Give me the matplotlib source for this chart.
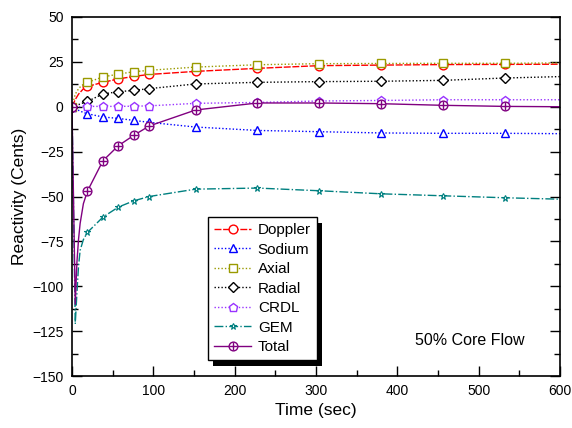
import numpy as np
import matplotlib.pyplot as plt
from matplotlib.patches import Rectangle
from matplotlib.legend_handler import HandlerTuple
from matplotlib.ticker import MultipleLocator

plt.rcParams['font.family'] = ['Liberation Sans', 'DejaVu Sans']

# time points (sec); markers sit on index 0 and 6..16
t = [0, 4, 6, 8, 10, 14, 19, 38, 57, 76, 95, 152, 228, 304, 380, 456, 532, 600]
doppler = [0, 4, 5.5, 7, 8, 10, 11.3, 13.6, 15.5, 16.9, 18.0, 19.7, 21.4, 22.9, 23.2, 23.5, 23.6, 23.7]
sodium = [0, -1.2, -1.6, -2, -2.4, -3.2, -3.9, -5.7, -6.5, -7.6, -8.7, -11.3, -13.2, -13.9, -14.6, -14.8, -14.8, -15.0]
axial = [0, 7, 8.5, 10, 11, 12.5, 13.6, 16.6, 18.2, 19.5, 20.3, 22.1, 23.4, 24.0, 24.1, 24.2, 24.2, 24.4]
radial = [0, 0.6, 0.9, 1.2, 1.5, 2.2, 3.0, 7.1, 8.4, 9.1, 10.1, 12.7, 13.6, 14.0, 14.2, 14.7, 16.0, 16.8]
crdl = [0, 0.1, 0.1, 0.1, 0.1, 0.2, 0.2, 0.2, 0.2, 0.3, 0.5, 1.9, 2.4, 3.2, 3.5, 3.9, 3.9, 3.9]
gem = [0, -121, -104, -89, -80, -74, -70.0, -61.5, -55.9, -52.4, -50.0, -45.9, -45.3, -46.8, -48.5, -49.6, -50.7, -51.5]
total = [0, -110, -87, -74, -65, -54, -47, -30.1, -21.7, -15.9, -10.7, -1.8, 2.1, 2.1, 1.7, 0.8, 0.2, 0.0]

mk = [0] + list(range(6, 17))

fig = plt.figure(figsize=(5.72, 4.28), dpi=100)
ax = fig.add_axes([72 / 572, 1 - 376 / 428, 488 / 572, 359 / 428])

ms = 6.3
common = dict(lw=1.0, markevery=mk, ms=ms, mfc='white', mew=1.0)
ax.plot(t, doppler, color='#ff0000', ls=(0, (5, 1.2)), marker='o', label='Doppler', **common)
ax.plot(t, sodium, color='#0000ff', ls=(0, (1, 1.5)), marker='^', label='Sodium', **common)
ax.plot(t, axial, color='#9a9a00', ls=(0, (1, 1.5)), marker='s', label='Axial', **common)
ax.plot(t, radial, color='black', ls=(0, (1, 1.5)), marker='D', label='Radial', lw=1.0,
        markevery=mk, ms=5.2, mfc='white', mew=1.0)
ax.plot(t, crdl, color='#9933ff', ls=(0, (1, 1.5)), marker='p', label='CRDL', **common)
l_gem, = ax.plot(t, gem, color='#008080', ls='-.', marker='*', label='GEM', lw=1.0,
                 markevery=mk, ms=5, mfc='white', mew=0.8)
l_tot, = ax.plot(t, total, color='#800080', ls='-', marker='o', lw=1.0,
                 markevery=mk, ms=ms, mfc='white', mew=1.0)
l_plus, = ax.plot(np.array(t)[mk], np.array(total)[mk], ls='none', marker='+',
                  color='#800080', ms=ms, mew=1.0)

ax.set_xlim(0, 600)
ax.set_ylim(-150, 50)
ax.xaxis.set_major_locator(MultipleLocator(100))
ax.xaxis.set_minor_locator(MultipleLocator(50))
ax.yaxis.set_major_locator(MultipleLocator(25))
ax.yaxis.set_minor_locator(MultipleLocator(12.5))
ax.tick_params(which='both', direction='in', right=True, top=False, labelsize=10, width=1)
ax.tick_params(which='major', length=7, pad=6)
ax.tick_params(which='minor', length=4)
for s in ax.spines.values():
    s.set_linewidth(1.2)

ax.set_xlabel('Time (sec)', fontsize=12.5, labelpad=3)
ax.set_ylabel('Reactivity (Cents)', fontsize=12.5, labelpad=4)

ax.text(0.815, 0.10, '50% Core Flow', transform=ax.transAxes, fontsize=11.5,
        ha='center', va='center')

handles, labels = ax.get_legend_handles_labels()
handles.append((l_tot, l_plus))
labels.append('Total')
leg = ax.legend(handles, labels, loc='upper left', bbox_to_anchor=(0.279, 0.443),
                borderaxespad=0, fancybox=False, framealpha=1, edgecolor='black',
                fontsize=11, handlelength=2.4, handletextpad=0.45, labelspacing=0.36,
                borderpad=0.4, handler_map={tuple: HandlerTuple(ndivide=1)})
leg.get_frame().set_linewidth(1.0)
leg.set_zorder(6)

fig.canvas.draw()
bb = leg.get_window_extent().transformed(ax.transAxes.inverted())
dx = 5 / 488
dy = 6 / 359
ax.add_patch(Rectangle((bb.x0 + dx, bb.y0 - dy), bb.width, bb.height, transform=ax.transAxes,
                       facecolor='black', edgecolor='none', zorder=5.5, clip_on=False))

fig.savefig('out.png', dpi=100)
